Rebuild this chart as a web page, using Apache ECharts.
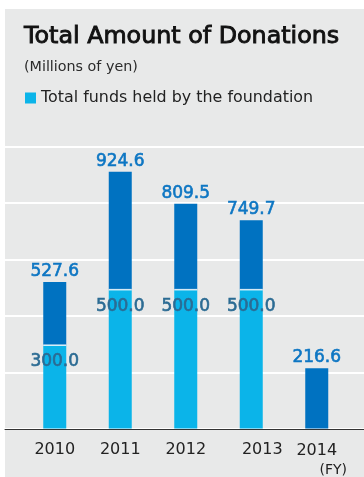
<!DOCTYPE html>
<html>
<head>
<meta charset="utf-8">
<script src="https://cdn.jsdelivr.net/npm/echarts@6/dist/echarts.min.js"></script>
<style>
  html, body { margin: 0; padding: 0; background: #ffffff; }
  #chart { width: 364px; height: 477px; }
</style>
</head>
<body>
<div id="chart"></div>
<script>
// Fiscal years and donation amounts (millions of yen)
const years = ['2010', '2011', '2012', '2013', '2014'];
const foundationFunds = [300.0, 500.0, 500.0, 500.0, 0];
const totalDonations = [527.6, 924.6, 809.5, 749.7, 216.6];

const FONT = '"DejaVu Sans", "Noto Sans", sans-serif';
const LIGHT = '#0bb4e9';
const DARK = '#0072c1';

// Part of each year's total not held by the foundation, stacked on top
const otherDonations = totalDonations.map((t, i) => +(t - foundationFunds[i]).toFixed(1));

const chart = echarts.init(document.getElementById('chart'), null, { renderer: 'canvas' });

const yMax = 1015, yStep = 203;

chart.setOption({
  animation: false,
  backgroundColor: '#ffffff',
  graphic: [{
    type: 'rect', left: 5, top: 9, z: -10,
    shape: { width: 359, height: 468 },
    style: { fill: '#e8e9e9' }
  }],
  title: [{
    text: 'Total Amount of Donations',
    left: 19, top: 20,
    textStyle: {
      fontFamily: FONT, fontSize: 23.8, fontWeight: 'normal', color: '#111111',
      textBorderColor: '#111111', textBorderWidth: 0.9
    }
  }, {
    text: '(Millions of yen)',
    left: 19, top: 55,
    textStyle: { fontFamily: FONT, fontSize: 14.3, fontWeight: 'normal', color: '#2a2a2a' }
  }],
  legend: {
    data: ['Total funds held by the foundation'],
    left: 25, top: 90, padding: 0,
    icon: 'rect', itemWidth: 11, itemHeight: 11,
    textStyle: { fontFamily: FONT, fontSize: 15.9, color: '#222222', padding: [0, 0, 0, 0] }
  },
  grid: [
    { left: 5, right: 0, top: 146.7, bottom: 48 },
    { left: 22, right: 14.5, top: 146.7, bottom: 48 }
  ],
  xAxis: [{
    gridIndex: 0, type: 'value', min: 0, max: 1,
    axisLine: { show: true, lineStyle: { color: '#333333', width: 1 } },
    axisTick: { show: false }, axisLabel: { show: false }, splitLine: { show: false }
  }, {
    gridIndex: 1, type: 'category', data: years,
    axisLine: { show: false }, axisTick: { show: false },
    axisLabel: {
      interval: 0, margin: 13,
      fontFamily: FONT, fontSize: 16, color: '#222222',
      formatter: v => v === '2013' ? '{s|' + v + '}' : v === '2014' ? '{y|' + v + '}\n{fy|(FY)}' : v,
      rich: {
        s: { fontFamily: FONT, fontSize: 16, color: '#222222', padding: [0, 0, 0, 22] },
        y: { fontFamily: FONT, fontSize: 16, color: '#222222', lineHeight: 19 },
        fy: { fontFamily: FONT, fontSize: 14, color: '#222222', lineHeight: 19, padding: [0, 0, 0, 33] }
      }
    }
  }],
  yAxis: [{
    gridIndex: 0, type: 'value', min: 0, max: yMax, interval: yStep,
    axisLine: { show: false }, axisTick: { show: false }, axisLabel: { show: false },
    splitLine: { show: true, lineStyle: { color: '#ffffff', width: 2 } }
  }, {
    gridIndex: 1, type: 'value', min: 0, max: yMax, interval: yStep,
    axisLine: { show: false }, axisTick: { show: false }, axisLabel: { show: false },
    splitLine: { show: false }
  }],
  series: [{
    name: 'Total funds held by the foundation',
    type: 'bar', stack: 'total', xAxisIndex: 1, yAxisIndex: 1,
    barWidth: 23,
    itemStyle: { color: LIGHT },
    data: foundationFunds.map(v => v > 0 ? v : '-'),
    label: {
      show: true, position: 'insideTop', distance: 8,
      fontFamily: FONT, fontSize: 17, fontWeight: 'normal', color: '#2b6b93',
      textBorderColor: '#2b6b93', textBorderWidth: 0.6,
      formatter: p => p.value.toFixed(1)
    }
  }, {
    name: 'Other',
    type: 'bar', stack: 'total', xAxisIndex: 1, yAxisIndex: 1,
    barWidth: 23,
    itemStyle: { color: DARK },
    data: otherDonations,
    label: {
      show: true, position: 'top', distance: 2,
      fontFamily: FONT, fontSize: 17, fontWeight: 'normal', color: '#0d76c3',
      textBorderColor: '#0d76c3', textBorderWidth: 0.6,
      formatter: p => totalDonations[p.dataIndex].toFixed(1)
    }
  }, {
    // thin white separator where the two segments meet
    name: 'sep',
    type: 'scatter', xAxisIndex: 1, yAxisIndex: 1,
    symbol: 'rect', symbolSize: [23, 1.6], silent: true, z: 5,
    itemStyle: { color: '#ffffff' },
    data: foundationFunds.map(v => v > 0 ? v : '-')
  }]
});
</script>
</body>
</html>
